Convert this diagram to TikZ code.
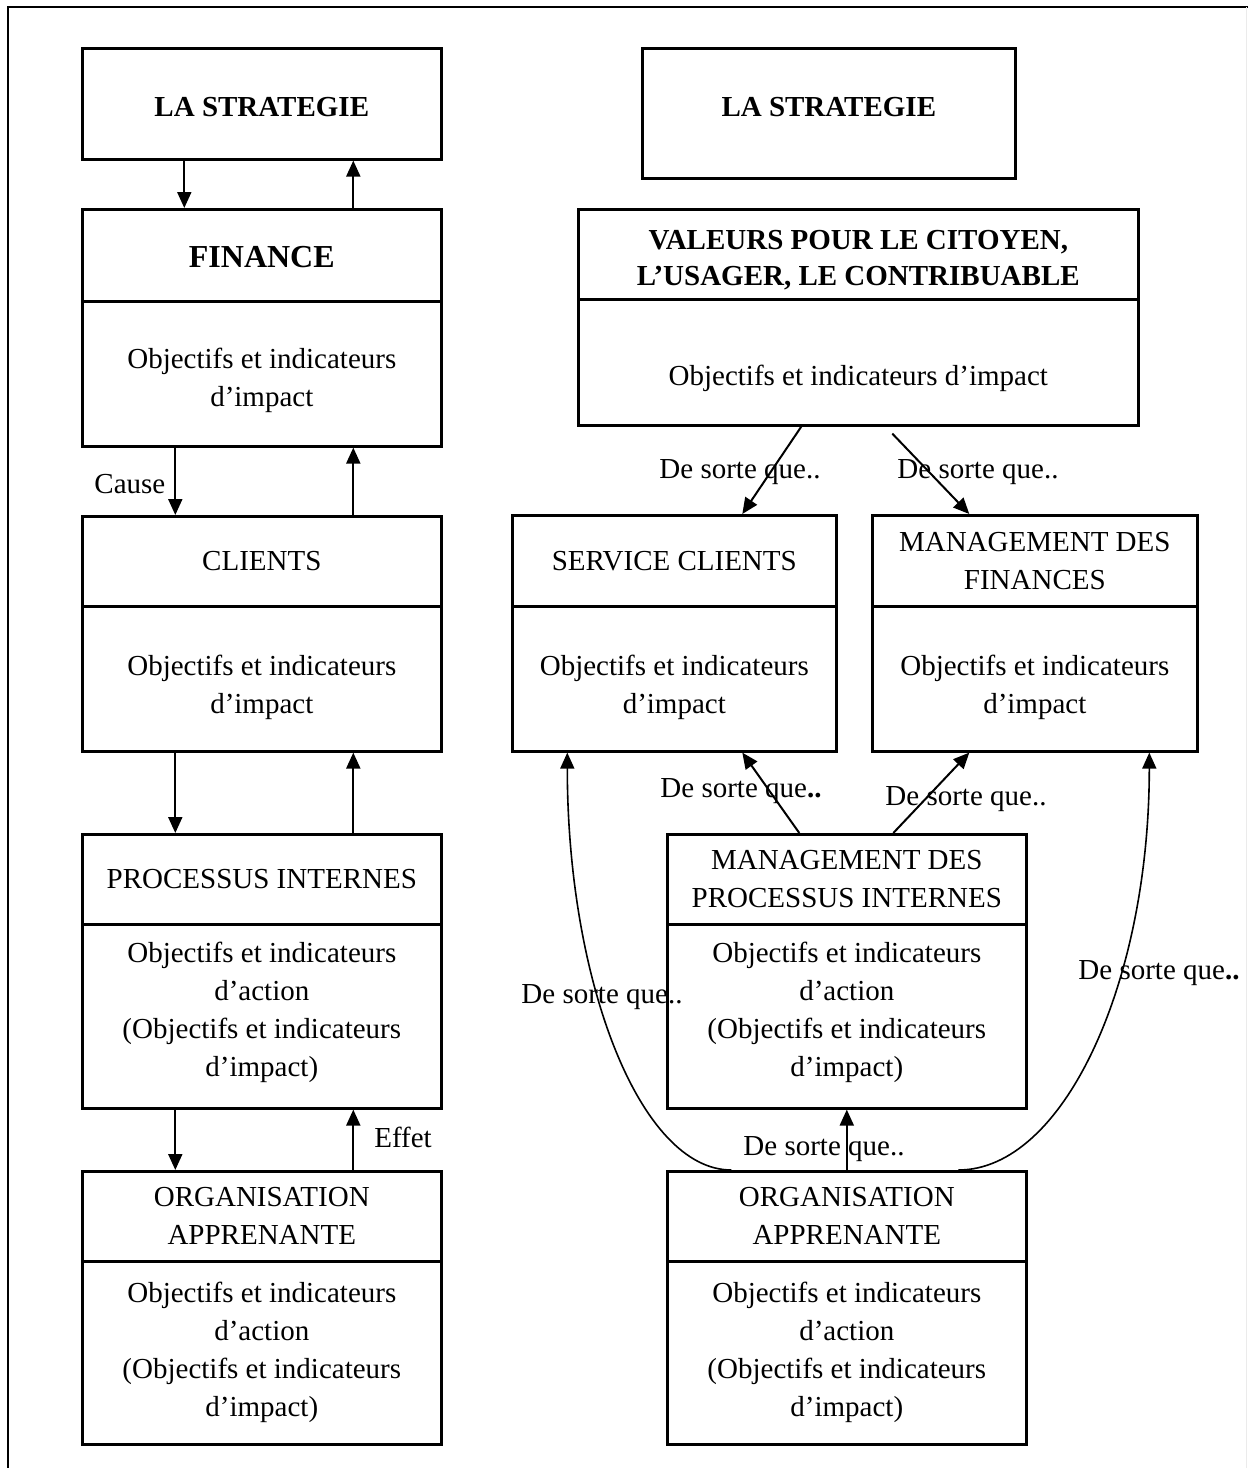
\documentclass[tikz,border=0pt]{standalone}
\usepackage{fontspec}
\setmainfont{Liberation Serif}
\usetikzlibrary{arrows.meta}
\newcommand\bodyfont{\fontsize{14.5pt}{19pt}\selectfont}
\begin{document}
\begin{tikzpicture}[x=0.5pt,y=-0.5pt,
  cell/.style={draw, line width=1.3pt, anchor=north west, inner sep=0pt, align=center, font=\bodyfont},
  txt/.style={inner sep=0pt, align=center, font=\bodyfont},
  link/.style={line width=1pt, -{Triangle[width=7pt,length=8pt]}},
  curvelink/.style={line width=0.8pt, -{Triangle[width=7pt,length=8pt]}},
]
\useasboundingbox (0,0) rectangle (1248,1468);
% page frame
\draw[line width=1pt] (8,1468) -- (8,7) -- (1248,7);
\draw[black!8, line width=0.5pt] (1246.5,7) -- (1246.5,1468);

% ---------------- left column ----------------
\node[cell, minimum width=179.5pt, minimum height=55.5pt] (ls1) at (81,47) {};
\node[txt] (ls1t) at ([yshift=-1.75pt]ls1.center) {\textbf{LA STRATEGIE}};

\node[cell, minimum width=179.5pt, minimum height=46pt] (finh) at (81,208) {};
\node[txt] (finht) at ([yshift=-1pt]finh.center) {\fontsize{16pt}{19pt}\selectfont\textbf{FINANCE}};
\node[cell, minimum width=179.5pt, minimum height=72.5pt] (finb) at (81,300) {};
\node[txt] (fint) at ([yshift=-3.25pt]finb.center) {Objectifs et indicateurs\\d’impact};

\node[cell, minimum width=179.5pt, minimum height=45pt] (clih) at (81,515) {CLIENTS};
\node[cell, minimum width=179.5pt, minimum height=72.5pt] (clib) at (81,605) {};
\node[txt] (clit) at ([yshift=-4.25pt]clib.center) {Objectifs et indicateurs\\d’impact};

\node[cell, minimum width=179.5pt, minimum height=45pt] (proh) at (81,833) {PROCESSUS INTERNES};
\node[cell, minimum width=179.5pt, minimum height=92pt] (prob) at (81,923) {};
\node[txt] (prot) at ([yshift=1.75pt]prob.center) {Objectifs et indicateurs\\d’action\\(Objectifs et indicateurs\\d’impact)};

\node[cell, minimum width=179.5pt, minimum height=45pt] (orgh) at (81,1170) {ORGANISATION\\APPRENANTE};
\node[cell, minimum width=179.5pt, minimum height=91.5pt] (orgb) at (81,1260) {};
\node[txt] (orgt) at (orgb.center) {Objectifs et indicateurs\\d’action\\(Objectifs et indicateurs\\d’impact)};

\draw[link] ([xshift=-38.75pt]ls1.south) -- ([xshift=-38.75pt]finh.north);
\draw[link] ([xshift=45.75pt]finh.north) -- ([xshift=45.75pt]ls1.south);
\draw[link] ([xshift=-43.25pt]finb.south) -- ([xshift=-43.25pt]clih.north)
  node[txt, midway, left, xshift=-4.5pt, yshift=-1.5pt] (cause) {Cause};
\draw[link] ([xshift=45.75pt]clih.north) -- ([xshift=45.75pt]finb.south);
\draw[link] ([xshift=-43.25pt]clib.south) -- ([xshift=-43.25pt]proh.north);
\draw[link] ([xshift=45.75pt]proh.north) -- ([xshift=45.75pt]clib.south);
\draw[link] ([xshift=-43.25pt]prob.south) -- ([xshift=-43.25pt]orgh.north);
\draw[link] ([xshift=45.75pt]orgh.north) -- ([xshift=45.75pt]prob.south)
  node[txt, midway, right, xshift=10pt, yshift=1pt] (effet) {Effet};

% ---------------- right column ----------------
\node[cell, minimum width=186.5pt, minimum height=65pt] (ls2) at (641,47) {};
\node[txt] (ls2t) at ([yshift=3pt]ls2.center) {\textbf{LA STRATEGIE}};

\node[cell, minimum width=280pt, minimum height=45pt] (valh) at (577,208) {};
\node[txt] (valht) at ([yshift=-3pt]valh.center) {\textbf{VALEURS POUR LE CITOYEN,}\\[-1pt]\textbf{L’USAGER, LE CONTRIBUABLE}};
\node[cell, minimum width=280pt, minimum height=63pt] (valb) at (577,298) {};
\node[txt] (valt) at ([yshift=-8pt]valb.center) {Objectifs et indicateurs d’impact};

\node[cell, minimum width=162pt, minimum height=45.5pt] (sch) at (511,514) {SERVICE CLIENTS};
\node[cell, minimum width=162pt, minimum height=72.5pt] (scb) at (511,605) {};
\node[txt] (sct) at ([yshift=-4.25pt]scb.center) {Objectifs et indicateurs\\d’impact};

\node[cell, minimum width=162.5pt, minimum height=45.5pt] (mfh) at (871,514) {MANAGEMENT DES\\FINANCES};
\node[cell, minimum width=162.5pt, minimum height=72.5pt] (mfb) at (871,605) {};
\node[txt] (mft) at ([yshift=-4.25pt]mfb.center) {Objectifs et indicateurs\\d’impact};

\node[cell, minimum width=179.5pt, minimum height=45pt] (mpih) at (666,833) {MANAGEMENT DES\\PROCESSUS INTERNES};
\node[cell, minimum width=179.5pt, minimum height=92pt] (mpib) at (666,923) {};
\node[txt] (mpit) at ([yshift=1.75pt]mpib.center) {Objectifs et indicateurs\\d’action\\(Objectifs et indicateurs\\d’impact)};

\node[cell, minimum width=179.5pt, minimum height=45pt] (oah) at (666,1170) {ORGANISATION\\APPRENANTE};
\node[cell, minimum width=179.5pt, minimum height=91.5pt] (oab) at (666,1260) {};
\node[txt] (oat) at (oab.center) {Objectifs et indicateurs\\d’action\\(Objectifs et indicateurs\\d’impact)};

% value chain links
\draw[link] ([xshift=-28.5pt]valb.south) -- ([xshift=34pt]sch.north);
\draw[link] ([xshift=17pt,yshift=-3.5pt]valb.south) -- ([xshift=-32.75pt]mfh.north);
\draw[link] ([xshift=-23.75pt]mpih.north) -- ([xshift=34pt]scb.south);
\draw[link] ([xshift=23.25pt]mpih.north) -- ([xshift=-32.75pt]mfb.south);
\draw[link] (oah.north) -- (mpib.south);
\draw[curvelink] ([xshift=-57.75pt]oah.north) to[out=180, in=-90, out distance=45.25pt, in distance=115.5pt] ([xshift=-53.5pt]scb.south);
\draw[curvelink] ([xshift=55.75pt]oah.north) to[out=0, in=-90, out distance=52.5pt, in distance=115.5pt] ([xshift=57.25pt]mfb.south);

% link captions
\node[txt] (q1) at (740,472) {De sorte que..};
\node[txt] (q2) at (978,472) {De sorte que..};
\node[txt] (q3) at (741,791) {De sorte que\textbf{..}};
\node[txt] (q4) at (966,799) {De sorte que..};
\node[txt] (q5) at (602,997) {De sorte que..};
\node[txt] (q6) at (1159,973) {De sorte que\textbf{..}};
\node[txt] (q7) at (824,1149) {De sorte que..};
\end{tikzpicture}
\end{document}
